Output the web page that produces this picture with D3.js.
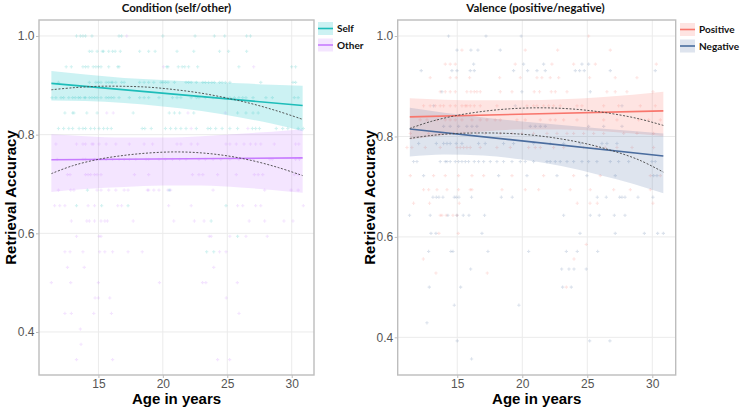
<!DOCTYPE html>
<html><head><meta charset="utf-8">
<script src="https://cdn.jsdelivr.net/npm/d3@7"></script>
<style>
html,body{margin:0;padding:0;background:#fff;}
svg{display:block;}
</style></head>
<body><svg id="c" width="740" height="409"></svg>
<script>
// ---------------- DATA ----------------
const xTicks = [15, 20, 25, 30];
const yTicks = [0.4, 0.6, 0.8, 1.0];
const leftTitle = "Condition (self/other)";
const rightTitle = "Valence (positive/negative)";
const xLabel = "Age in years";
const yLabel = "Retrieval Accuracy";
const leftSeries = ["Self", "Other"];
const rightSeries = ["Positive", "Negative"];

// fitted linear trend (age, accuracy)
const selfFit = [[11.35, 0.904], [30.85, 0.859]];
const otherFit = [[11.35, 0.749], [30.85, 0.753]];
const posFit = [[11.35, 0.839], [30.85, 0.851]];
const negFit = [[11.35, 0.815], [30.85, 0.761]];

// confidence band samples: [age, lower, upper]
const selfBand = [[11.35,0.869,0.929],[14,0.868,0.922],[17,0.864,0.915],[20,0.857,0.911],[23,0.848,0.907],[26,0.835,0.904],[28.5,0.822,0.901],[30.85,0.807,0.899]];
const otherBand = [[11.35,0.684,0.801],[14,0.690,0.797],[17,0.694,0.794],[20,0.697,0.794],[23,0.697,0.797],[26,0.693,0.802],[28.5,0.688,0.806],[30.85,0.682,0.811]];
const posBand = [[11.35,0.794,0.876],[14,0.803,0.873],[17,0.810,0.872],[20,0.814,0.872],[23,0.814,0.874],[26,0.811,0.878],[28.5,0.806,0.883],[30.85,0.801,0.889]];
const negBand = [[11.35,0.760,0.857],[14,0.764,0.847],[17,0.762,0.838],[20,0.754,0.830],[23,0.741,0.823],[26,0.723,0.816],[28.5,0.706,0.811],[30.85,0.687,0.806]];

// quadratic (dashed) trends: [age, accuracy]
const selfQuad = [[11.35,0.891],[13,0.895],[15,0.898],[17,0.898],[19,0.896],[21,0.891],[23,0.884],[25,0.874],[27,0.862],[29,0.847],[30.85,0.831]];
const otherQuad = [[11.35,0.721],[13,0.737],[15,0.750],[17,0.758],[19,0.763],[21,0.765],[23,0.763],[25,0.757],[27,0.747],[29,0.733],[30.85,0.717]];
const posQuad = [[11.35,0.816],[13,0.830],[15,0.842],[17,0.850],[19,0.855],[21,0.857],[23,0.856],[25,0.852],[27,0.845],[29,0.835],[30.85,0.822]];
const negQuad = [[11.35,0.796],[13,0.802],[15,0.806],[17,0.807],[19,0.806],[21,0.802],[23,0.795],[25,0.785],[27,0.771],[29,0.753],[30.85,0.729]];

// raw observations: [accuracy, [ages...]]
const selfPts = [
 [1.0,[13.3,13.6,13.8,14.0,14.5,16.6,16.8,20.0,22.5,24.0,24.8,26.5,26.8]],
 [0.969,[14.3,14.5,14.9,15.3,15.4,15.8,16.1,16.3,16.7,18.2,18.9,19.4,21.1,22.4,24.4,25.1,26.5]],
 [0.9375,[12.5,12.9,13.8,14.0,14.2,14.6,14.8,15.0,15.2,15.8,16.5,16.6,20.3,20.4,21.2,21.5,21.7,22.0,22.7,25.9,30.0,30.3]],
 [0.906,[11.9,14.3,14.8,15.0,15.2,15.6,15.8,16.0,16.1,16.35,16.8,17.0,18.2,18.55,18.9,19.3,19.85,20.0,20.2,20.4,20.9,21.8,22.0,22.2,22.6,23.1,23.3,23.55,23.8,24.0,24.4,24.6,24.85,25.2,27.6,30.1,30.3]],
 [0.875,[11.4,11.7,12.1,12.3,12.7,13.0,13.2,13.45,13.6,13.9,14.0,14.3,14.5,14.7,14.9,15.2,15.6,15.8,16.0,16.2,16.6,17.4,18.2,18.55,18.9,19.7,20.75,21.1,21.4,22.2,22.6,22.8,23.3,23.9,24.8,25.2,25.55,25.9,26.2,26.45,27.0,28.0,28.5,30.2,30.5]],
 [0.844,[12.4,13.0,13.1,14.1,14.9,17.7,20.5,20.9,21.3,22.4,25.8,26.45,27.0,27.4]],
 [0.8125,[11.9,12.3,12.7,13.0,13.5,13.8,14.0,14.4,14.7,15.05,15.4,15.7,16.0,18.4,18.6,19.1,20.2,20.6,21.0,21.4,21.8,22.6,23.5,23.7,24.1,24.6,25.2,25.8,26.95,27.2,27.5,28.8,29.3,29.7,30.5,30.9]],
 [0.6875,[14.15,20.5]],
 [0.656,[13.3,15.25,17.3,24.9]],
 [0.625,[23.75]],
 [0.594,[25.8]],
 [0.5625,[23.4,23.95]]
];
const otherPts = [
 [1.0,[17.2]],
 [0.9375,[20.05,27.05]],
 [0.844,[15.65,16.15,21.95,24.85]],
 [0.8125,[22.2,26.6]],
 [0.781,[11.7,13.3,13.8,14.0,14.5,14.6,15.05,15.6,16.35,17.4,18.55,19.2,21.1,21.4,22.2,22.7,24.9,25.2,25.7,26.3,26.8,27.2,27.6,28.65,30.3,30.55]],
 [0.75,[11.8,13.8,14.0,14.7,15.6,16.1,16.6,17.0,17.4,17.9,18.7,18.9,19.7,20.2,20.75,21.3,21.8,22.8,23.3,23.9,24.5,25.2,25.9,26.6,27.0,28.3,28.5,30.3,30.6]],
 [0.719,[12.6,12.8,14.0,14.2,14.4,14.7,14.9,15.2,17.8,18.9,22.3,22.8,23.1,24.25,25.7,27.1,27.4,27.75,30.2,30.5]],
 [0.6875,[11.9,12.85,13.1,14.9,15.2,15.8,16.35,17.0,17.3,18.8,18.9,19.3,19.7,20.4,20.6,23.9,27.9,29.95,30.5]],
 [0.656,[11.6,12.0,12.4,14.2,14.7,16.5,16.8,20.45,22.2,25.8,26.2,27.2,27.6,30.9]],
 [0.625,[12.9,14.1,14.3,14.7,15.2,15.5,15.7,17.7,20.85,22.45,23.2,26.7,27.9,29.4,30.1]],
 [0.594,[13.3,15.05,15.2,23.6,23.75,25.2,26.45,28.1]],
 [0.5625,[12.4,12.8,13.8,15.1,15.5,16.1,17.3,18.4,24.4,24.9]],
 [0.531,[12.6,13.9,23.95]],
 [0.5,[11.35,12.85,15.0,19.74,23.08,23.34,25.78]],
 [0.469,[14.74,15.0,15.88,24.92]],
 [0.4375,[12.4,12.9,14.64,16.01,25.91]],
 [0.406,[13.6]],
 [0.375,[13.65]],
 [0.344,[13.3,16.1,24.25,25.18]]
];
const posPts = [
 [1.0,[25.1]],
 [0.972,[15.36,20.23,22.72,26.77]],
 [0.944,[14.08,14.46,14.85,19.46,22.28,23.95,25.62,30.31]],
 [0.917,[12.92,14.46,14.92,15.95,18.26,19.85,21.13,21.51,22.15,22.8,25.18,27.15,28.82]],
 [0.889,[13.69,14.08,14.46,14.85,15.74,16.05,16.31,16.51,16.77,18.31,19.21,20.92,21.33,22.23,22.54,23.44,26.51,27.15,28.05,30.05]],
 [0.861,[12.41,12.92,13.31,13.69,13.95,14.46,14.85,15.36,15.62,15.74,16.0,16.31,16.77,18.05,20.36,20.87,21.13,21.64,22.03,22.41,22.92,24.21,24.59,26.26,27.41,29.08,30.23]],
 [0.833,[12.15,12.67,13.44,14.08,14.46,14.85,15.36,16.13,16.77,17.28,17.92,18.31,19.59,20.23,21.39,22.15,22.54,23.18,24.21,26.26,27.28,28.95,29.72,30.62]],
 [0.806,[11.39,12.8,13.69,14.72,15.49,16.0,16.51,17.15,18.31,19.21,19.97,20.87,21.9,22.67,23.44,23.95,24.72,25.49,26.26,27.8,28.82,30.1]],
 [0.778,[11.13,11.51,12.54,13.69,14.98,15.23,15.49,15.74,16.0,16.77,18.05,19.08,20.49,21.0,21.39,22.41,23.18,24.72,25.74,26.38,27.28,28.44,30.1]],
 [0.722,[11.39,13.18,14.08,15.1,16.13,17.03,19.21,21.64,23.95,26.0,29.85,30.62]],
 [0.694,[12.41,12.8,13.44,14.21,15.1,16.0,16.13,18.44,20.23,21.26,23.69,25.23,27.03,28.31,29.85]],
 [0.667,[11.64,12.87,15.15,24.23,25.21,25.77,30.05]],
 [0.643,[13.69,13.82,14.15,14.67,14.98]],
 [0.607,[13.59,15.08]],
 [0.585,[24.92]],
 [0.556,[12.39,23.98]],
 [0.528,[13.36,17.31]],
 [0.5,[23.39]]
];
const negPts = [
 [1.0,[14.33,17.21,19.92]],
 [0.972,[14.98,16.05,16.59,18.31]],
 [0.944,[16.26,20.1,21.64,24.59,25.1]],
 [0.931,[12.23,14.59,14.98,16.0,16.31,19.33,20.41,21.13,21.77,24.08,24.41,24.77,26.77,30.23]],
 [0.889,[13.82,19.97,25.23]],
 [0.861,[13.18,19.46,27.67]],
 [0.82,[13.95,14.46,15.1,15.74,16.13,16.51,20.62,21.0,21.39,21.77,25.1,26.26,27.67]],
 [0.786,[12.03,13.39,13.95,14.21,14.46,14.92,15.36,16.64,17.15,18.56,19.33,20.87,22.15,23.18,24.46,26.13,26.51,27.28]],
 [0.75,[11.64,11.9,13.69,14.08,14.21,14.46,14.85,15.1,15.36,15.62,15.87,16.31,16.64,17.03,17.54,18.05,18.56,19.21,19.85,20.23,20.87,21.9,22.15,22.54,22.92,23.44,23.95,24.59,25.1,25.74,26.77,27.41,28.18,29.97,30.23]],
 [0.722,[12.41,18.18,20.36,22.67,24.97,27.15,30.1,30.36]],
 [0.679,[13.13,13.39,13.59,13.9,14.77,14.92,15.13,16.1,18.39,19.23,25.77,26.46,27.49,27.67,27.9,28.9,30.05]],
 [0.643,[11.33,12.92,14.28,14.98,15.46,15.9,17.1,23.18,25.23,25.92,27.08,27.9]],
 [0.607,[12.98,13.36,16.9,24.44,27.15,29.39,30.41,30.85]],
 [0.571,[12.8,14.51,14.67,17.36,20.49,23.39,24.23,25.8]],
 [0.536,[16.03,23.03,23.59,23.98,24.92]],
 [0.5,[12.85,15.26,23.1,23.77]],
 [0.464,[14.77,19.74]],
 [0.429,[12.67]],
 [0.393,[15.0,25.18,26.74]],
 [0.357,[16.1]]
];

// ---------------- DRAW ----------------
const svg = d3.select("#c");
const colors = {Self:"#1DBDB9", Other:"#C77CFF", Positive:"#F8766D", Negative:"#4A6C9E"};
const fills = {Self:"rgba(0,191,196,0.2)", Other:"rgba(199,124,255,0.2)", Positive:"rgba(248,118,109,0.2)", Negative:"rgba(74,108,158,0.18)"};

function flatten(pts){ const out=[]; pts.forEach(([acc,ages])=>ages.forEach(a=>out.push([a,acc]))); return out; }

function panel(cfg){
  const g = svg.append("g");
  const x = d3.scaleLinear().domain(cfg.xDom).range([cfg.left, cfg.right]);
  const y = d3.scaleLinear().domain(cfg.yDom).range([cfg.bottom, cfg.top]);
  // grid
  g.append("g").selectAll("line").data(xTicks).join("line")
    .attr("x1",d=>x(d)).attr("x2",d=>x(d)).attr("y1",cfg.top).attr("y2",cfg.bottom)
    .attr("stroke","#EBEBEB").attr("stroke-width",1);
  g.append("g").selectAll("line").data(yTicks).join("line")
    .attr("y1",d=>y(d)).attr("y2",d=>y(d)).attr("x1",cfg.left).attr("x2",cfg.right)
    .attr("stroke","#EBEBEB").attr("stroke-width",1);
  // points
  cfg.series.forEach((s,i)=>{
    g.append("g").selectAll("path").data(flatten(cfg.pts[i])).join("path")
      .attr("d", d3.symbol(d3.symbolCross, 6))
      .attr("transform", d=>`translate(${x(d[0])},${y(d[1])})`)
      .attr("fill", colors[s]).attr("opacity",0.2);
  });
  // bands
  cfg.series.forEach((s,i)=>{
    const area = d3.area().curve(d3.curveMonotoneX).x(d=>x(d[0])).y0(d=>y(d[1])).y1(d=>y(d[2]));
    g.append("path").datum(cfg.bands[i]).attr("d",area).attr("fill",fills[s]);
  });
  // fit lines
  cfg.series.forEach((s,i)=>{
    const line = d3.line().x(d=>x(d[0])).y(d=>y(d[1]));
    g.append("path").datum(cfg.fits[i]).attr("d",line).attr("fill","none")
      .attr("stroke",colors[s]).attr("stroke-width",1.6);
  });
  // quad dashed lines
  cfg.series.forEach((s,i)=>{
    const line = d3.line().curve(d3.curveCatmullRom).x(d=>x(d[0])).y(d=>y(d[1]));
    g.append("path").datum(cfg.quads[i]).attr("d",line).attr("fill","none")
      .attr("stroke","#444").attr("stroke-width",0.9).attr("stroke-dasharray","2,1.6");
  });
  // border
  g.append("rect").attr("x",cfg.left).attr("y",cfg.top)
    .attr("width",cfg.right-cfg.left).attr("height",cfg.bottom-cfg.top)
    .attr("fill","none").attr("stroke","#BDBDBD").attr("stroke-width",1.4);
  // axes
  const ax = g.append("g").attr("transform",`translate(0,${cfg.bottom})`)
    .call(d3.axisBottom(x).tickValues(xTicks).tickSize(3).tickPadding(1));
  const ay = g.append("g").attr("transform",`translate(${cfg.left},0)`)
    .call(d3.axisLeft(y).tickValues(yTicks).tickFormat(d3.format(".1f")).tickSize(3).tickPadding(1.5));
  [ax,ay].forEach(a=>{
    a.select(".domain").remove();
    a.selectAll(".tick line").attr("stroke","#BDBDBD");
    a.selectAll("text").attr("fill","#555").style("font-family","Liberation Sans, Arial, sans-serif").style("font-size","12px");
  });
  // axis titles
  g.append("text").attr("x",(cfg.left+cfg.right)/2).attr("y",404).attr("text-anchor","middle")
    .style("font-family","Liberation Sans, Arial, sans-serif").style("font-weight","bold").style("font-size","15px")
    .attr("fill","#000").text(xLabel);
  g.append("text").attr("transform",`translate(${cfg.yLabX},${(cfg.top+cfg.bottom)/2}) rotate(-90)`)
    .attr("text-anchor","middle")
    .style("font-family","Liberation Sans, Arial, sans-serif").style("font-weight","bold").style("font-size","15px")
    .attr("fill","#000").text(yLabel);
  // title
  g.append("text").attr("x",cfg.titleX).attr("y",11.5).attr("text-anchor","middle")
    .style("font-family","Lato, 'Open Sans', sans-serif").style("font-weight","bold").style("font-size","11.5px")
    .attr("fill","#111").text(cfg.title);
  // legend
  cfg.series.forEach((s,i)=>{
    const ly = cfg.legY[i];
    const lg = g.append("g").attr("transform",`translate(${cfg.legX},${ly})`);
    lg.append("rect").attr("x",0).attr("y",-6.5).attr("width",15).attr("height",13).attr("fill",fills[s]);
    lg.append("line").attr("x1",0).attr("x2",15).attr("y1",0).attr("y2",0).attr("stroke",colors[s]).attr("stroke-width",1.6);
    lg.append("text").attr("x",19).attr("y",3.8).style("font-family","Lato, 'Open Sans', sans-serif")
      .style("font-weight","bold").style("font-size","10px").attr("fill","#111").text(s);
  });
}

panel({left:39, right:314, top:20, bottom:375, xDom:[10.39,31.73], yDom:[0.3128,1.0324],
  series:leftSeries, pts:[selfPts,otherPts], bands:[selfBand,otherBand], fits:[selfFit,otherFit], quads:[selfQuad,otherQuad],
  title:leftTitle, titleX:176.5, yLabX:15.5, legX:318, legY:[28.5,45]});
panel({left:397.7, right:675.7, top:20, bottom:375, xDom:[10.42,31.8], yDom:[0.325,1.0319],
  series:rightSeries, pts:[posPts,negPts], bands:[posBand,negBand], fits:[posFit,negFit], quads:[posQuad,negQuad],
  title:rightTitle, titleX:535.5, yLabX:375, legX:680, legY:[29.5,46]});
</script></body></html>
